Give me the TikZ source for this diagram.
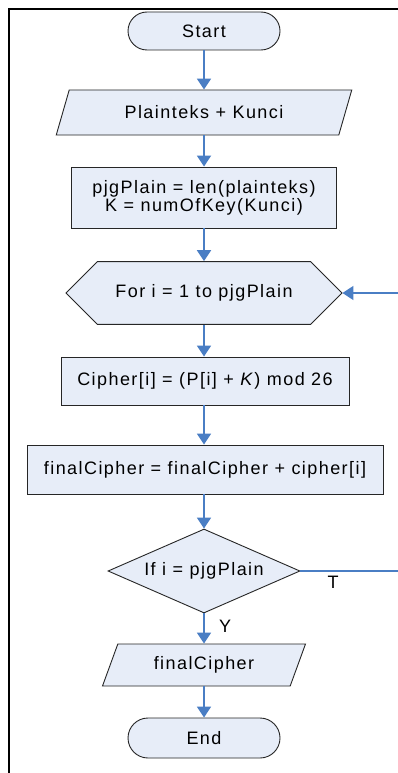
\documentclass[tikz,border=0pt]{standalone}
\usepackage{fontspec}
\setmainfont{Liberation Sans}[LetterSpace=8]
\usetikzlibrary{shapes.geometric,shapes.misc,arrows.meta}
\definecolor{boxfill}{RGB}{231,237,248}
\definecolor{arrblue}{RGB}{74,126,196}
\tikzset{
  base/.style={draw=black!85, line width=0.9pt, fill=boxfill, inner sep=0pt, align=center,
    font=\fontsize{18pt}{18pt}\selectfont},
  term/.style={base, rounded rectangle, minimum width=152pt},
  io/.style={base, trapezium, trapezium stretches=true},
  proc/.style={base, rectangle},
  loopbox/.style={base, chamfered rectangle, chamfered rectangle xsep=36pt, chamfered rectangle ysep=23pt},
  decis/.style={base, diamond},
  arr/.style={draw=arrblue, line width=1.8pt, -{Triangle[width=14pt,length=11pt]}},
  lbl/.style={font=\fontsize{18pt}{18pt}\selectfont, inner sep=0pt}
}
\begin{document}
\begin{tikzpicture}[x=1pt,y=-1pt]
\useasboundingbox (0,0) rectangle (398,773);
\clip (0,0) rectangle (398,773);
\fill[white] (0,0) rectangle (398,773);
\draw[line width=2.5pt] (9,774) -- (9,9) -- (400,9);

\node[term, minimum height=38pt] (start) at (204,31) {Start};
\node[io, trapezium left angle=60, trapezium right angle=120, minimum width=296pt, minimum height=45pt] (in) at (204,112.5) {Plainteks + Kunci};
\node[proc, minimum width=265pt, minimum height=61pt] (init) at (204,197.5) {pjgPlain = len(plainteks)\\K = numOfKey(Kunci)};
\node[loopbox, minimum width=276pt, minimum height=46pt] (for) at (204,293) {For i = 1 to pjgPlain};
\node[proc, minimum width=288pt, minimum height=48pt] (ciph) at (205,381) {Cipher[i] = (P[i] + \textit{K}) mod 26};
\node[proc, minimum width=356pt, minimum height=49pt] (fin) at (205,469.5) {finalCipher = finalCipher + cipher[i]};
\node[decis, aspect=2.286, minimum width=192pt, minimum height=84pt] (dec) at (204,571) {If i = pjgPlain};
\node[io, trapezium left angle=62, trapezium right angle=118, minimum width=203pt, minimum height=42pt] (out) at (204,665) {finalCipher};
\node[term, minimum height=40pt] (end) at (204,738) {End};

\node[lbl] (t) at (333,582) {T};
\node[lbl] (y) at (225,626) {Y};

\coordinate (r1) at (412,571);
\coordinate (r2) at (412,293);

\draw[arr] (start.south) -- (start.south |- in.north);
\draw[arr] (in.south) -- (in.south |- init.north);
\draw[arr] (init.south) -- (init.south |- for.north);
\draw[arr] (for.south) -- (for.south |- ciph.north);
\draw[arr] (for.south |- ciph.south) -- (for.south |- fin.north);
\draw[arr] (for.south |- fin.south) -- (dec.north);
\draw[arr] (dec.south) -- (dec.south |- out.north);
\draw[arr] (out.south) -- (out.south |- end.north);
\draw[arr, line width=1.5pt] (dec.east) -- (r1) -- (r2) -- (for.east);
\end{tikzpicture}
\end{document}
